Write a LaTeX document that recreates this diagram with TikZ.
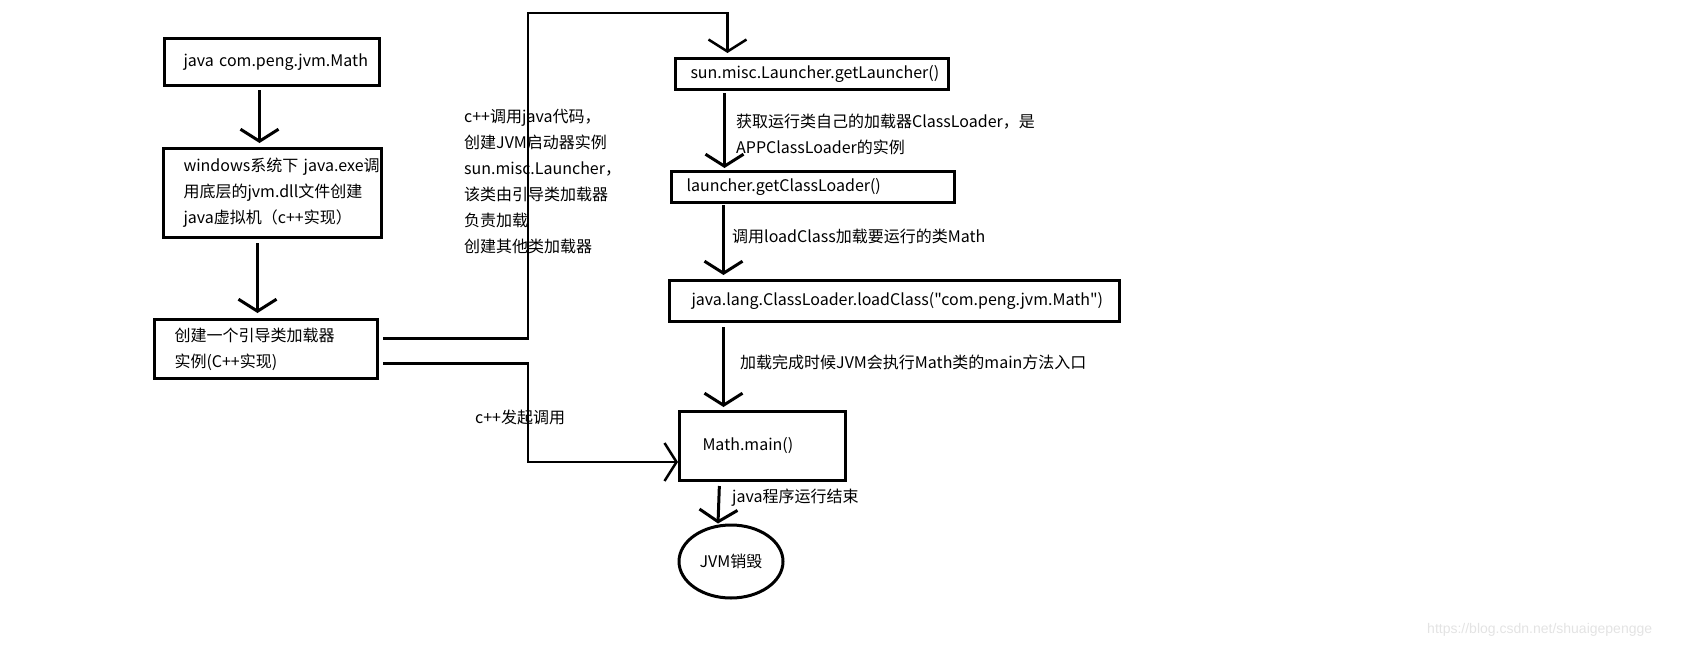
\documentclass[tikz,border=0pt]{standalone}
\usepackage{fontspec}
\newfontfamily\cjk{Noto Sans CJK SC}
\newfontfamily\wmfont{Liberation Sans}
\usepackage{tikz}
\usetikzlibrary{arrows.meta,shapes.geometric}

\begin{document}
\begin{tikzpicture}[x=1pt,y=-1pt,
  txt/.style={font=\cjk\fontsize{16}{26}\selectfont, inner sep=0pt, anchor=west, align=left},
  box/.style={draw, line width=3pt, anchor=north west, align=left, inner ysep=0pt, font=\cjk\fontsize{16}{26}\selectfont},
  arr/.style={line width=3pt, -{Straight Barb[length=12pt,width=38pt]}},
  link/.style={line width=2.5pt}]
\useasboundingbox (0,0) rectangle (1692,648);
\node[box, minimum width=215pt, minimum height=47pt, text width=177pt, inner xsep=19pt] (b1) at (163,37) {java~com.peng.jvm.Math};
\node[box, minimum width=218pt, minimum height=89pt, text width=178pt, inner xsep=20pt] (b2) at (162,147) {windows系统下~java.exe调\\用底层的jvm.dll文件创建\\java虚拟机（c++实现）};
\node[box, minimum width=223pt, minimum height=59pt, text width=183pt, inner xsep=20pt] (b3) at (153,318) {创建一个引导类加载器\\实例(C++实现)};
\node[box, minimum width=273pt, minimum height=31pt, text width=243pt, inner xsep=15pt] (b4) at (674,57) {sun.misc.Launcher.getLauncher()};
\node[box, minimum width=283pt, minimum height=31pt, text width=253pt, inner xsep=15pt] (b5) at (670,170) {launcher.getClassLoader()};
\node[box, minimum width=450pt, minimum height=41pt, text width=406pt, inner xsep=22pt] (b6) at (668,279) {java.lang.ClassLoader.loadClass("com.peng.jvm.Math")};
\node[box, minimum width=166pt, minimum height=69pt, text width=120pt, inner xsep=23pt] (b7) at (678,410) {Math.main()};
\node[ellipse, draw, line width=3pt, minimum width=104pt, minimum height=73pt, inner sep=0pt, font=\cjk\fontsize{16}{26}\selectfont] (e) at (731,561.5) {JVM销毁};
\node[txt] (t1) at (464,181.5) {c++调用java代码，\\创建JVM启动器实例\\sun.misc.Launcher，\\该类由引导类加载器\\负责加载\\创建其他类加载器};
\node[txt] (t2) at (475,417) {c++发起调用};
\node[txt] (t3) at (736,134) {获取运行类自己的加载器ClassLoader，是\\APPClassLoader的实例};
\node[txt] (t4) at (732,236) {调用loadClass加载要运行的类Math};
\node[txt] (t5) at (740,362) {加载完成时候JVM会执行Math类的main方法入口};
\node[txt] (t6) at (732,498) {java程序运行结束};
\node[anchor=west, inner sep=0pt, font=\wmfont\fontsize{14}{16}\selectfont, text=gray!22] (wm) at (1427,630) {https://blog.csdn.net/shuaigepengge};
\coordinate (up) at (528,13);
\coordinate (dn) at (528,462);
\draw[arr, shorten <=3pt, shorten >=4pt] ([xshift=-12.5pt]b1.south) -- ([xshift=-13pt]b2.north);
\draw[arr, shorten <=4pt, shorten >=5pt] ([xshift=-15pt]b2.south) -- ([xshift=-8.5pt]b3.north);
\draw[arr, shorten <=2pt, shorten >=2pt] ([xshift=-87.5pt]b4.south) -- ([xshift=-88.5pt]b5.north);
\draw[arr, shorten <=1pt, shorten >=4pt] ([xshift=-89.5pt]b5.south) -- ([xshift=-171pt]b6.north);
\draw[arr, shorten <=4pt, shorten >=3pt] ([xshift=-171pt]b6.south) -- ([xshift=-39pt]b7.north);
\draw[arr, shorten <=4pt] ([xshift=-43pt]b7.south) -- ([xshift=-13pt]e.north);
\draw[link, -{Straight Barb[length=12pt,width=38pt]}, shorten <=4pt, shorten >=4pt] ([yshift=10.5pt]b3.east) -| (up) -| ([xshift=-84.5pt]b4.north);
\draw[link, -{Straight Barb[length=12pt,width=38pt]}, shorten <=4pt] ([yshift=-14.5pt]b3.east) -| (dn) -- (dn -| b7.west);
\end{tikzpicture}
\end{document}
